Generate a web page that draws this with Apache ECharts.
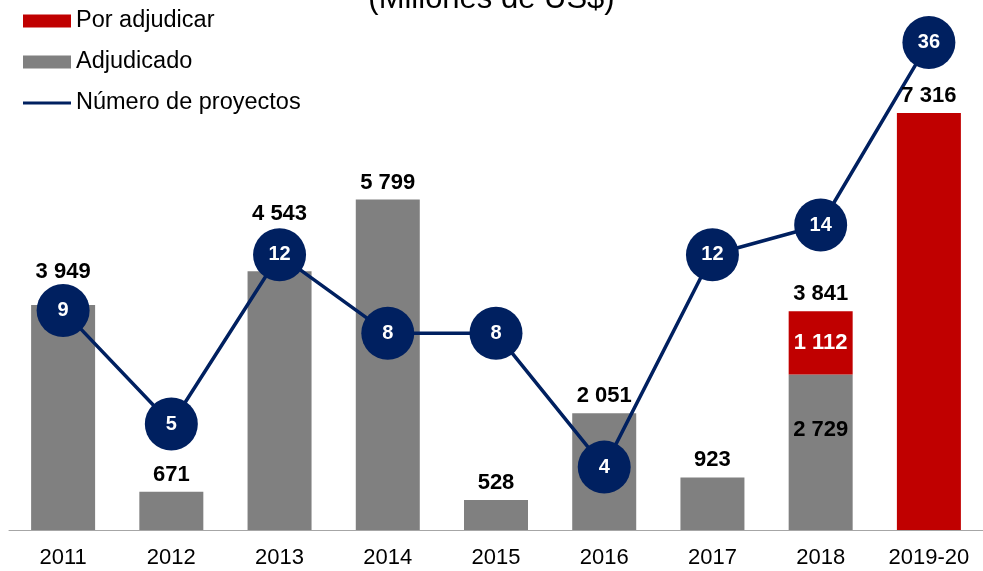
<!DOCTYPE html>
<html>
<head>
<meta charset="utf-8">
<script src="https://cdn.jsdelivr.net/npm/echarts@6/dist/echarts.min.js"></script>
<style>
  html, body { margin: 0; padding: 0; background: #fff; }
  #chart { width: 983px; height: 571px; }
</style>
</head>
<body>
<div id="chart"></div>
<script>
const years = ["2011", "2012", "2013", "2014", "2015", "2016", "2017", "2018", "2019-20"];
const adjudicado = [3949, 671, 4543, 5799, 528, 2051, 923, 2729, 0];
const porAdjudicar = [0, 0, 0, 0, 0, 0, 0, 1112, 7316];
const proyectos = [9, 5, 12, 8, 8, 4, 12, 14, 36];

const FONT = "Liberation Sans, Arial, sans-serif";

// "3949" -> "3 949"
function fmt(v) {
  return String(v).replace(/\B(?=(\d{3})+(?!\d))/g, " ");
}

// separar algunas etiquetas de total para que no tapen los círculos
const labelLift = { 0: 16, 2: 40 };

const chart = echarts.init(document.getElementById("chart"));

chart.setOption({
  animation: false,
  textStyle: { fontFamily: FONT },
  title: {
    text: "(Millones de US$)",
    left: "center",
    top: -21,
    textStyle: { fontFamily: FONT, fontSize: 31, fontWeight: "normal", color: "#000" }
  },
  legend: {
    orient: "vertical",
    left: 18,
    top: 4,
    itemWidth: 48,
    itemHeight: 13,
    itemGap: 17,
    textStyle: { fontFamily: FONT, fontSize: 23.5, color: "#000", lineHeight: 24 },
    data: [
      { name: "Por adjudicar", icon: "rect" },
      { name: "Adjudicado", icon: "rect" },
      { name: "Número de proyectos", icon: "path://M0,0H48V3H0Z" }
    ]
  },
  grid: { left: 9, right: 0, top: 20, bottom: 41 },
  xAxis: {
    type: "category",
    data: years,
    axisLine: { lineStyle: { color: "#a6a6a6", width: 1 } },
    axisTick: { length: 8, lineStyle: { color: "#a6a6a6" } },
    axisLabel: { fontFamily: FONT, fontSize: 22, color: "#000", margin: 17 }
  },
  yAxis: [
    { type: "value", min: 0, max: 8950, show: false, splitLine: { show: false } },
    // escala del número de proyectos (oculta)
    { type: "log", logBase: 10, min: 2.889, max: 40.44, show: false, splitLine: { show: false } }
  ],
  series: [
    {
      name: "Adjudicado",
      type: "bar",
      stack: "monto",
      barWidth: 64,
      itemStyle: { color: "#808080" },
      data: adjudicado.map((v, i) => ({
        value: v,
        label: {
          show: v > 0 && porAdjudicar[i] > 0,
          position: "insideTop",
          offset: [0, 39]
        }
      })),
      label: {
        fontFamily: FONT, fontSize: 22, fontWeight: "bold", color: "#000",
        formatter: p => fmt(p.value)
      }
    },
    {
      name: "Por adjudicar",
      type: "bar",
      stack: "monto",
      barWidth: 64,
      itemStyle: { color: "#c00000" },
      data: porAdjudicar.map((v, i) => ({
        value: v,
        label: { show: v > 0 && adjudicado[i] > 0, position: "inside" }
      })),
      label: {
        fontFamily: FONT, fontSize: 22, fontWeight: "bold", color: "#fff",
        formatter: p => fmt(p.value)
      }
    },
    {
      // totales encima de cada barra
      name: "Total",
      type: "bar",
      stack: "monto",
      barWidth: 64,
      silent: true,
      z: 6,
      itemStyle: { color: "transparent" },
      data: years.map((y, i) => ({
        value: 0,
        label: { distance: 6 + (labelLift[i] || 0) }
      })),
      label: {
        show: true,
        position: "top",
        fontFamily: FONT, fontSize: 22, fontWeight: "bold", color: "#000",
        formatter: p => fmt(adjudicado[p.dataIndex] + porAdjudicar[p.dataIndex])
      }
    },
    {
      name: "Número de proyectos",
      type: "line",
      yAxisIndex: 1,
      z: 5,
      symbol: "circle",
      symbolSize: 53,
      lineStyle: { color: "#002060", width: 3.5 },
      itemStyle: { color: "#002060" },
      data: proyectos,
      label: {
        show: true,
        position: "inside",
        fontFamily: FONT, fontSize: 20, fontWeight: "bold", color: "#fff"
      }
    }
  ]
});
</script>
</body>
</html>
